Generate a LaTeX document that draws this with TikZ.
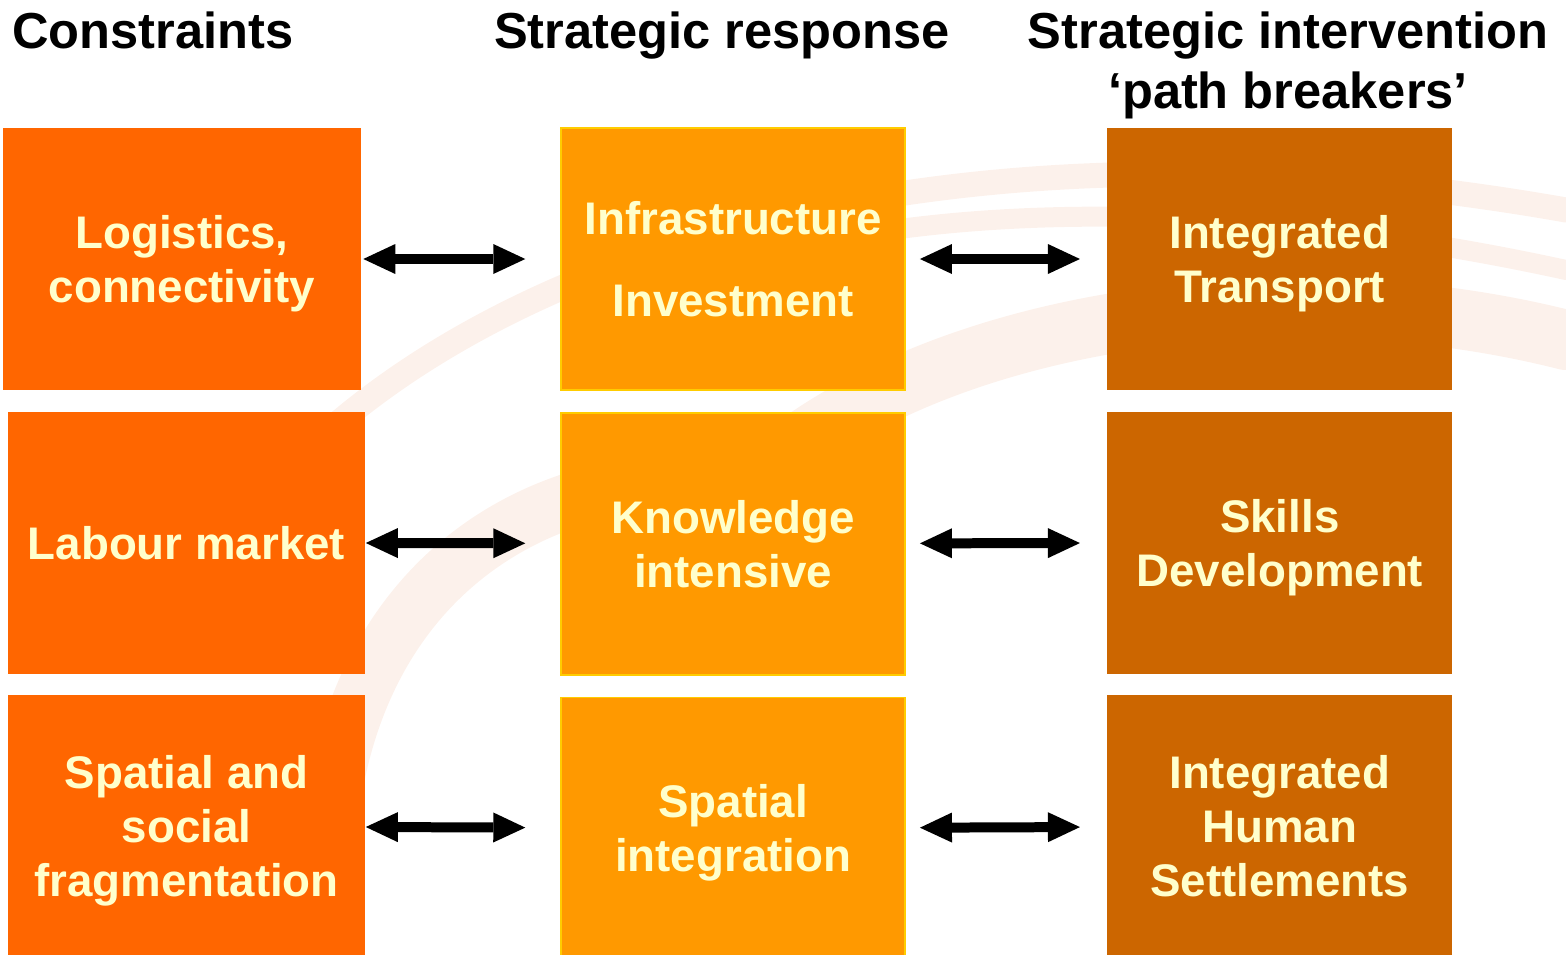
\documentclass[tikz,border=0pt]{standalone}
\usepackage{fontspec}
\setmainfont{Liberation Sans}
\usepackage{tikz}
\usetikzlibrary{arrows.meta,positioning}
\usepackage{xcolor}
\definecolor{constorange}{RGB}{255,102,0}
\definecolor{respamber}{RGB}{255,153,0}
\definecolor{respborder}{RGB}{255,204,0}
\definecolor{intbrown}{RGB}{204,102,0}
\definecolor{boxtext}{RGB}{255,255,204}
\definecolor{swirlpink}{RGB}{252,241,235}

\begin{document}
\begin{tikzpicture}[
    x=0.02cm, y=-0.02cm,
    box/.style={rectangle, inner sep=0pt, minimum height=5.24cm, align=center, text depth=0pt,
        text=boxtext, font=\bfseries\fontsize{26}{30.7}\selectfont},
    connode/.style={box, fill=constorange, minimum width=7.16cm},
    respnode/.style={box, fill=respamber, draw=respborder, line width=1pt, minimum width=6.88cm},
    intnode/.style={box, fill=intbrown, minimum width=6.9cm},
    header/.style={anchor=base, align=center, inner sep=0pt, font=\bfseries\fontsize{28.8}{34}\selectfont},
    link/.style={line width=0.2cm,
        {Triangle[length=0.64cm,width=0.6cm,line width=0pt]}-{Triangle[length=0.64cm,width=0.6cm,line width=0pt]}},
    swirl/.style={draw=swirlpink, line cap=round}
]
\useasboundingbox (0,0) rectangle (1566,954);

% faint logo in the background
\draw[swirl, line width=1.1cm] (330,954) .. controls (300,640) and (480,480) .. (700,480);
\draw[swirl, line width=0.5cm] (330,430) .. controls (560,230) and (1000,110) .. (1566,210);
\draw[swirl, line width=0.4cm] (640,300) .. controls (850,200) and (1200,190) .. (1566,270);
\draw[swirl, line width=1.2cm] (700,540) .. controls (850,330) and (1250,260) .. (1566,340);

% Column headers
\node[header, anchor=base west] (h_con) at (12,48) {Constraints};
\node[header] (h_resp) at (722,48) {Strategic response};
\node[header] (h_int) at (1288,108) {Strategic intervention\\‘path breakers’};

% Define nodes for Constraints
\node[connode] (con1) at (182,259) {Logistics,\\connectivity};
\node[connode, below=0.42cm of con1, xshift=0.09cm] (con2) {Labour market};
\node[connode, below=0.42cm of con2] (con3) {Spatial and\\social\\fragmentation};

% Define nodes for Strategic response
\node[respnode, right=3.98cm of con1] (res1) {Infrastructure\\[0.56cm]Investment};
\node[respnode, below=0.42cm of res1] (res2) {Knowledge\\intensive};
\node[respnode, below=0.42cm of res2] (res3) {Spatial\\integration};

% Define nodes for Strategic intervention
\node[intnode, right=4.02cm of res1] (int1) {Integrated\\Transport};
\node[intnode, below=0.42cm of int1] (int2) {Skills\\Development};
\node[intnode, below=0.42cm of int2] (int3) {Integrated\\Human\\Settlements};

% Connect everything with arrows
\draw[link, shorten <=0.04cm, shorten >=0.7cm] (con1) -- (res1);
\draw[link, shorten <=0.0cm, shorten >=0.7cm] (con2) -- (res2);
\draw[link, shorten <=0.0cm, shorten >=0.7cm] (con3) -- (res3);
\draw[link, shorten <=0.28cm, shorten >=0.54cm] (res1) -- (int1);
\draw[link, shorten <=0.28cm, shorten >=0.54cm] (res2) -- (int2);
\draw[link, shorten <=0.28cm, shorten >=0.54cm] (res3) -- (int3);

\end{tikzpicture}
\end{document}
